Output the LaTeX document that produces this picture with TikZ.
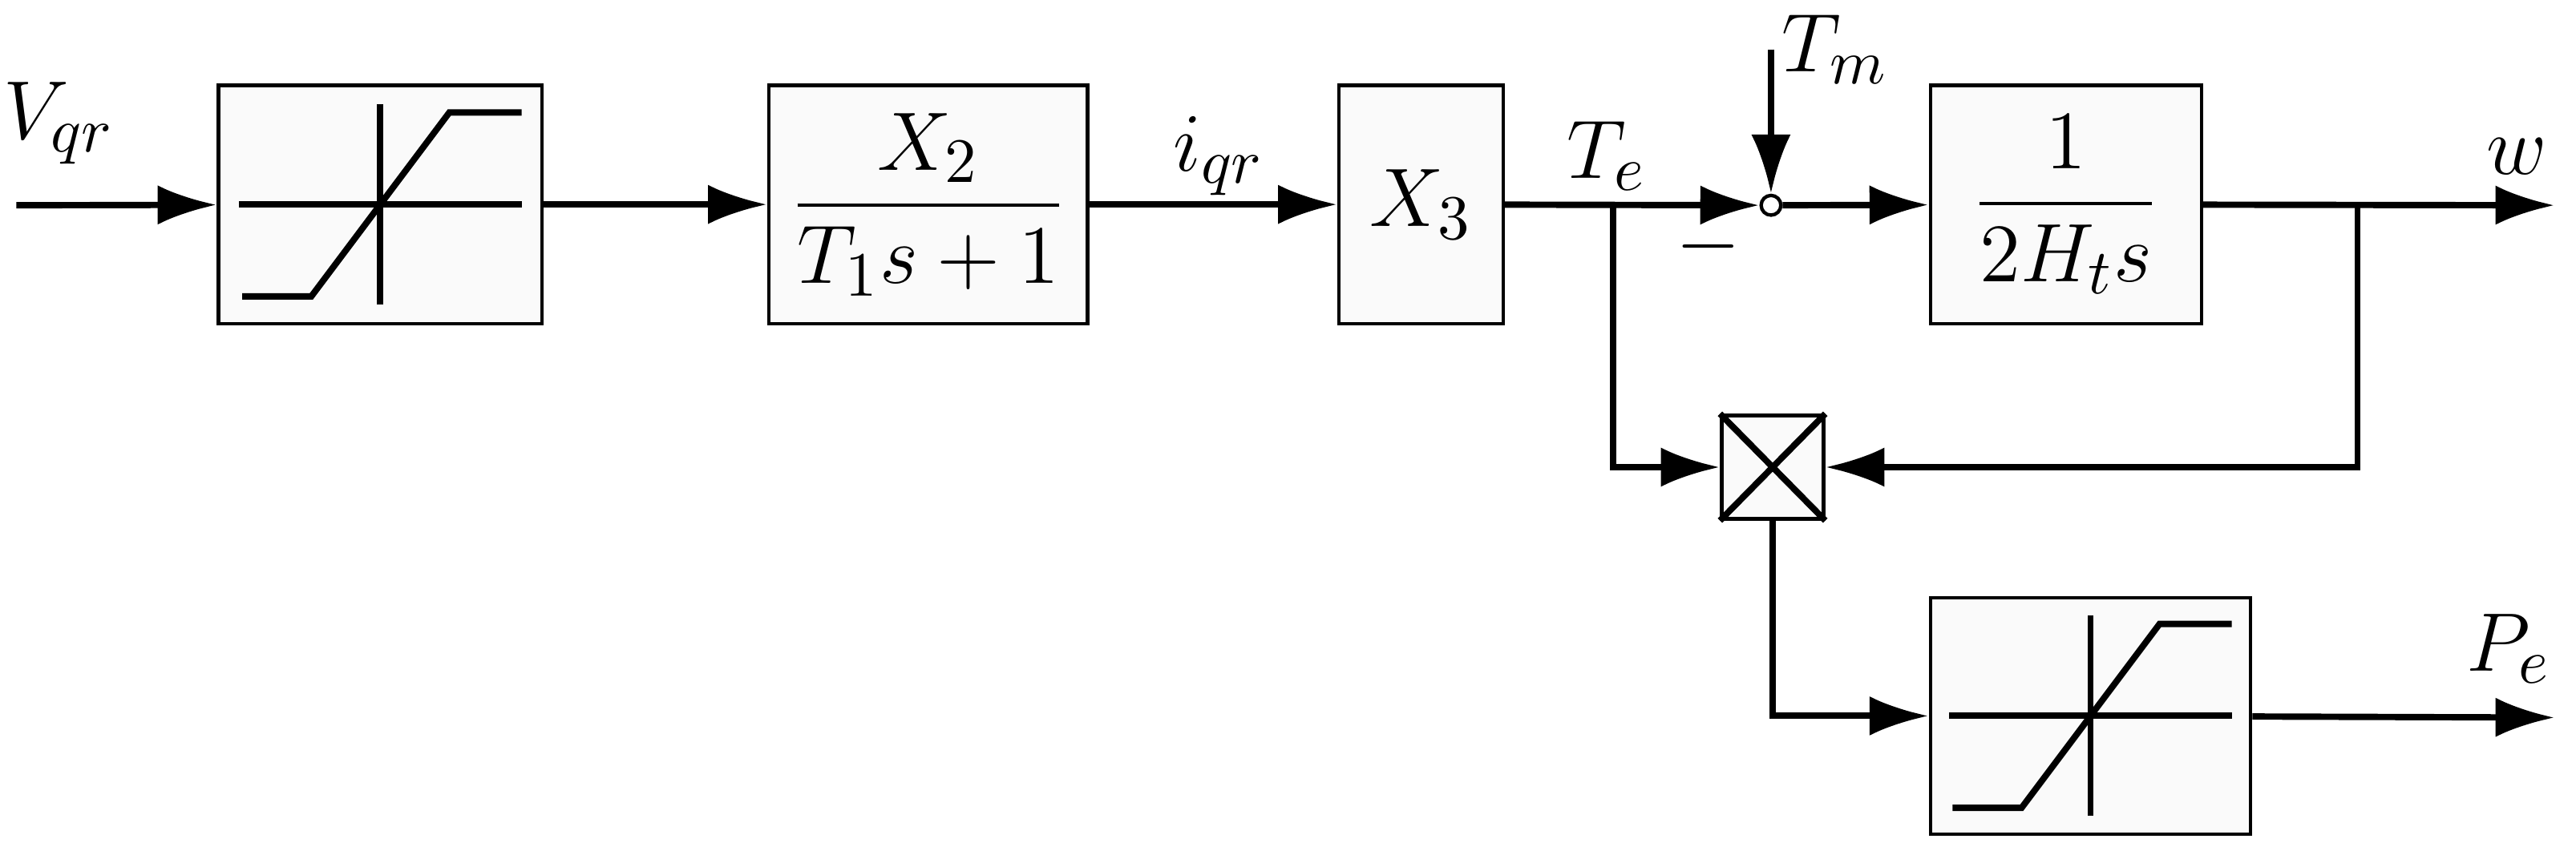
\documentclass[tikz,border=0pt]{standalone}
\usepackage{amsmath}
\usepackage{fontspec}
\setmainfont{Liberation Serif}
\usetikzlibrary{arrows.meta}
\begin{document}
\begin{tikzpicture}[x=0.1mm,y=-0.1mm,
  ln/.style={line width=1.1pt},
  arr/.style={ln,-{Latex[length=3.6mm,width=2.4mm]}},
  blk/.style={draw,line width=0.6pt,fill=gray!4,minimum height=14.5mm,inner sep=0pt},
  lbl/.style={font=\fontsize{15}{17}\selectfont\itshape}]
\useasboundingbox (0,0) rectangle (1568,518);
\node[blk,minimum width=19.7mm] (b1) at (231.5,124.5) {};
\node[blk,minimum width=19.4mm] (b2) at (565,124.5) {\fontsize{15}{17}\selectfont$\dfrac{X_2}{T_1 s+1}$};
\node[blk,minimum width=10mm] (b3) at (865,124.5) {\fontsize{15}{17}\selectfont$X_3$};
\node[blk,minimum width=16.5mm] (b4) at (1257.5,124.5) {\fontsize{15}{17}\selectfont$\dfrac{1}{2H_t s}$};
\node[blk,minimum width=19.5mm,minimum height=14.4mm] (b5) at (1272.5,436) {};
\node[draw,line width=0.6pt,fill=gray!4,minimum width=6.2mm,minimum height=6.3mm,inner sep=0pt] (m) at (1079,284.5) {};
\draw[ln] (m.north west)--(m.south east) (m.north east)--(m.south west);
\node[circle,draw,line width=0.6pt,fill=white,minimum size=1.2mm,inner sep=0pt] (s) at (1078,125) {};
\foreach \b/\cx/\cy in {b1/231.5/124.5,b5/1272.5/436}{
  \draw[ln] (\cx-86,\cy)--(\cx+86,\cy) (\cx,\cy-61)--(\cx,\cy+61);
  \draw[ln] (\cx-84,\cy+56)--(\cx-42,\cy+56)--(\cx+42,\cy-56)--(\cx+86,\cy-56);
}
\coordinate (in) at (10,125);
\coordinate (tm) at (1078,30);
\coordinate (w) at (1555,125);
\coordinate (pe) at (1555,437);
\coordinate (br1) at (982,125);
\coordinate (br2) at (1435,125);
\draw[arr] (in)--(b1);
\draw[arr] (b1)--(b2);
\draw[arr] (b2)--(b3);
\draw[arr] (b3)--(s);
\draw[arr] (tm)--(s);
\draw[arr] (s)--(b4);
\draw[arr] (b4)--(w);
\draw[arr] (br1)|-(m);
\draw[arr] (br2)|-(m);
\draw[arr] (m)|-(b5);
\draw[arr] (b5)--(pe);
\node[lbl] (t1) at (36,75) {$V_{qr}$};
\node[lbl] (t2) at (742,95) {$i_{qr}$};
\node[lbl] (t3) at (978,95) {$T_e$};
\node[lbl] (t4) at (1117,30) {$T_m$};
\node[lbl] (t5) at (1040,150) {$-$};
\node[lbl] (t6) at (1532,95) {$w$};
\node[lbl] (t7) at (1527,395) {$P_e$};
\end{tikzpicture}
\end{document}
